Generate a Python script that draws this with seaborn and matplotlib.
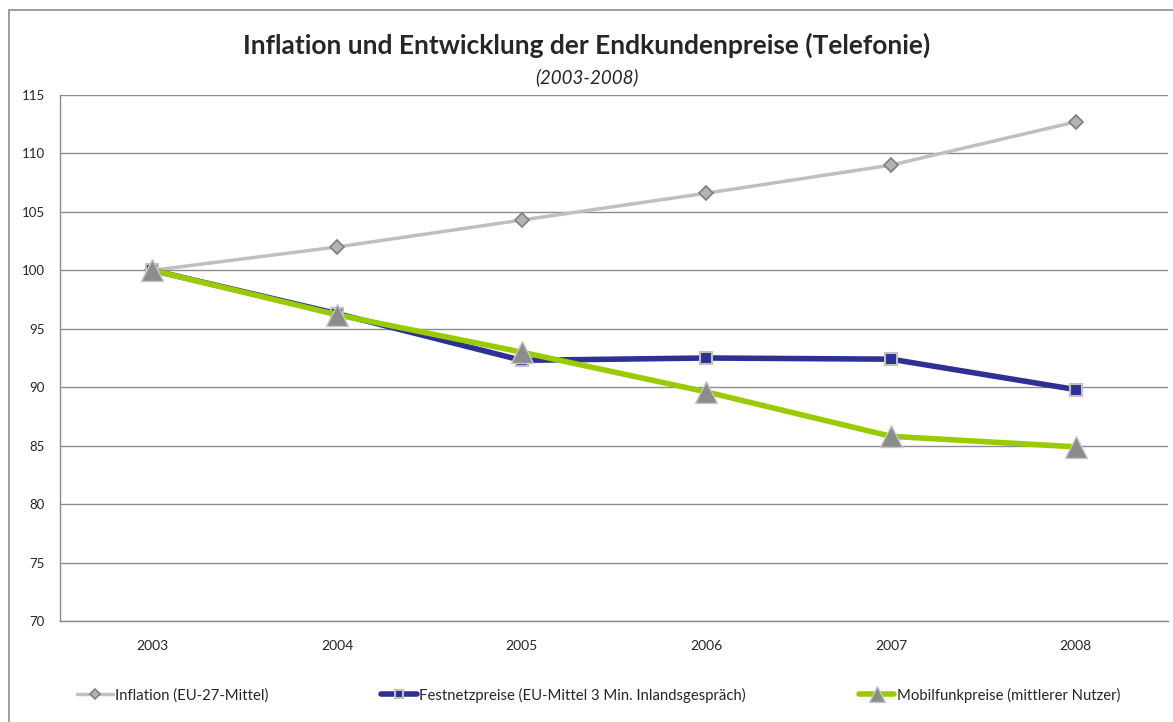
import numpy as np
import pandas as pd
import matplotlib
matplotlib.use("Agg")
import matplotlib.pyplot as plt
import matplotlib.patches as mpatches
import seaborn as sns

# Werte (Index 2003 = 100)
years = ["2003", "2004", "2005", "2006", "2007", "2008"]
inflation = [100.0, 102.0, 104.3, 106.6, 109.0, 112.7]
festnetz = [100.0, 96.3, 92.3, 92.5, 92.4, 89.8]
mobilfunk = [100.0, 96.2, 93.0, 89.6, 85.8, 84.9]

labels = ["Inflation (EU-27-Mittel)",
          "Festnetzpreise (EU-Mittel 3 Min. Inlandsgespräch)",
          "Mobilfunkpreise (mittlerer Nutzer)"]
yticks = [70, 75, 80, 85, 90, 95, 100, 105, 110, 115]

sns.set_style("white")
plt.rcParams['font.family'] = ['Lato', 'DejaVu Sans']

fig = plt.figure(figsize=(11.73, 7.22), dpi=100)
ax = fig.add_axes([60 / 1173, 1 - 621 / 722, 1108 / 1173, 526 / 722])

# Rahmen um das Diagramm
fig.patches.append(mpatches.Rectangle((9 / 1173, -0.05), 1.1, 1 - 10 / 722 + 0.05,
                                      transform=fig.transFigure, fill=False,
                                      edgecolor="#8c8c8c", linewidth=1.2))

x = np.arange(len(years))
df = pd.DataFrame({"x": x, "inf": inflation, "fest": festnetz, "mob": mobilfunk})

sns.lineplot(data=df, x="x", y="inf", ax=ax, color="#bfbfbf", linewidth=2.5,
             marker="D", markersize=7, markerfacecolor="#b3b3b3",
             markeredgecolor="#7f7f7f", markeredgewidth=1.2, label=labels[0])
sns.lineplot(data=df, x="x", y="fest", ax=ax, color="#2e3192", linewidth=4,
             marker="s", markersize=9, markerfacecolor="#2e3192",
             markeredgecolor="#c0c0c0", markeredgewidth=1.5, label=labels[1])
sns.lineplot(data=df, x="x", y="mob", ax=ax, color="#99cc00", linewidth=4,
             marker="^", markersize=16, markerfacecolor="#8c8c8c",
             markeredgecolor="#c8c8c8", markeredgewidth=1.0, label=labels[2])

ax.set_xlim(-0.5, len(years) - 0.5)
ax.set_ylim(70, 115)
ax.set_yticks(yticks)
ax.set_yticklabels([str(v) for v in yticks], fontsize=9.5)
ax.set_xticks(x)
ax.set_xticklabels(years, fontsize=10)
ax.set_xticks(np.arange(-0.5, len(years)), minor=True)
ax.tick_params(axis="x", which="major", length=0, pad=14)
ax.tick_params(axis="x", which="minor", length=5, color="#8c8c8c", direction="out")
ax.tick_params(axis="y", length=5, color="#8c8c8c", direction="out", pad=6)
ax.set_xlabel("")
ax.set_ylabel("")

ax.yaxis.grid(True, color="#8c8c8c", linewidth=1)
ax.set_axisbelow(True)
for side in ["top", "right"]:
    ax.spines[side].set_visible(False)
for side in ["left", "bottom"]:
    ax.spines[side].set_color("#8c8c8c")
    ax.spines[side].set_linewidth(1)

fig.text(0.5, 1 - 45 / 722, "Inflation und Entwicklung der Endkundenpreise (Telefonie)",
         ha="center", va="center", fontsize=19, fontweight="bold")
fig.text(0.5, 1 - 77 / 722, "(2003-2008)", ha="center", va="center",
         fontsize=13.5, style="italic")

leg = ax.legend(loc="center", bbox_to_anchor=(0.486, -0.141), ncol=3, frameon=False,
                fontsize=10.7, handlelength=2.4, handletextpad=0.15, columnspacing=7.6,
                markerscale=0.7)

fig.savefig("out.png", dpi=100)
